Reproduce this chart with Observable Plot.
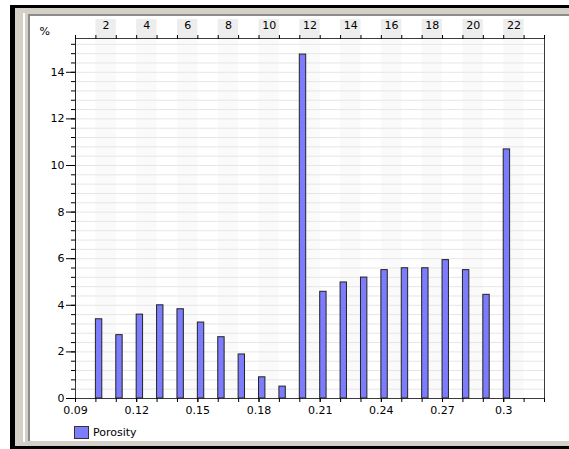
<!DOCTYPE html>
<html><head><meta charset="utf-8">
<script src="https://cdn.jsdelivr.net/npm/d3@7"></script>
<script src="https://cdn.jsdelivr.net/npm/@observablehq/plot@0.6"></script>
<style>
html,body{margin:0;padding:0;background:#fff;width:569px;height:449px;overflow:hidden;position:relative;font-family:"DejaVu Sans",sans-serif;}
.abs{position:absolute;}
</style></head><body>
<div class="abs" style="left:10px;top:5px;width:559px;height:444px;background:#000"></div>
<div class="abs" style="left:15px;top:8px;width:554px;height:438px;background:#d4d0c8"></div>
<div class="abs" style="left:23px;top:13px;width:2px;height:429px;background:#fff"></div>
<div class="abs" style="left:28px;top:14px;width:541px;height:427px;background:#fff;border-left:2px solid #8c8c8c;border-top:2px solid #8c8c8c;box-sizing:border-box"></div>
<div id="chart" class="abs" style="left:0;top:0"></div>
<div class="abs" style="left:74px;top:426px;width:15px;height:13px;background:#7c7cfc;border:1px solid #333;box-sizing:border-box"></div>
<div class="abs" style="left:93px;top:425px;font-size:11px;line-height:15px;color:#000">Porosity</div>
<script>
// Data
const porosity = [0.10,0.11,0.12,0.13,0.14,0.15,0.16,0.17,0.18,0.19,0.20,0.21,0.22,0.23,0.24,0.25,0.26,0.27,0.28,0.29,0.30];
const percent  = [3.4,2.72,3.6,4.0,3.83,3.26,2.63,1.89,0.91,0.51,14.76,4.58,4.98,5.19,5.51,5.59,5.59,5.94,5.51,4.45,10.69];
const binLabels = [2,4,6,8,10,12,14,16,18,20,22];
const xTickLabels = [0.09,0.12,0.15,0.18,0.21,0.24,0.27,0.30];
const yTickLabels = [0,2,4,6,8,10,12,14];

const binWidth = 0.01, xMin = 0.09, xMax = 0.32, yMax = 15.45;
const rows = porosity.map((p, i) => ({p, v: percent[i]}));
const xMinor = d3.range(0, 24).map(i => +(xMin + i * binWidth).toFixed(2));
const yMinor = d3.range(1, 39).map(i => +(i * 0.4).toFixed(1));
const binStart = i => +(xMin + (i - 1) * binWidth).toFixed(2);
const evenBins = d3.range(2, 24, 2).map(binStart);

const chart = Plot.plot({
  width: 569, height: 449,
  marginLeft: 75, marginRight: 25, marginTop: 38, marginBottom: 51,
  style: {fontFamily: "DejaVu Sans", fontSize: "11px", background: "transparent", color: "#000"},
  x: {domain: [xMin, xMax], axis: null},
  y: {domain: [0, yMax], axis: null},
  marks: [
    Plot.rect(evenBins, {x1: d => d, x2: d => d + binWidth, y1: 0, y2: yMax, fill: "#fafafa"}),
    Plot.rect(evenBins, {x1: d => d, x2: d => d + binWidth, y1: yMax, y2: yMax, insetTop: -19, fill: "#ededed"}),
    Plot.gridY(yMinor, {stroke: "#e6e6e6", strokeOpacity: 1}),
    Plot.frame({stroke: "#3a3a3a"}),
    Plot.rectY(rows, {x1: "p", x2: d => d.p + binWidth, y: "v", insetRight: 14, fill: "#7c7cfc", stroke: "#222", strokeWidth: 1}),
    Plot.ruleX([xMin], {y1: 0, y2: yMax, insetTop: -16, stroke: "#222"}),
    Plot.axisY(yMinor, {anchor: "left", label: null, tickSize: 4, tickFormat: () => ""}),
    Plot.axisY(yTickLabels, {anchor: "left", label: null, tickSize: 9, tickPadding: 2, fontSize: 11}),
    Plot.axisX(xMinor, {anchor: "bottom", label: null, tickSize: 4, tickFormat: () => ""}),
    Plot.axisX(xTickLabels, {anchor: "bottom", label: null, tickSize: 4, tickPadding: 4, fontSize: 11, tickFormat: d => String(d)}),
    Plot.axisX(xMinor, {anchor: "top", label: null, tickSize: 4, tickFormat: () => ""}),
    Plot.text(binLabels, {x: d => binStart(d) + binWidth / 2, y: yMax, dy: -13, text: d => String(d), fontSize: 11, fill: "#000"}),
    Plot.text(["%"], {frameAnchor: "top-left", dx: -36, dy: -11, text: d => d, fontSize: 11, fill: "#000"})
  ]
});
document.getElementById("chart").appendChild(chart);
</script>
</body></html>
